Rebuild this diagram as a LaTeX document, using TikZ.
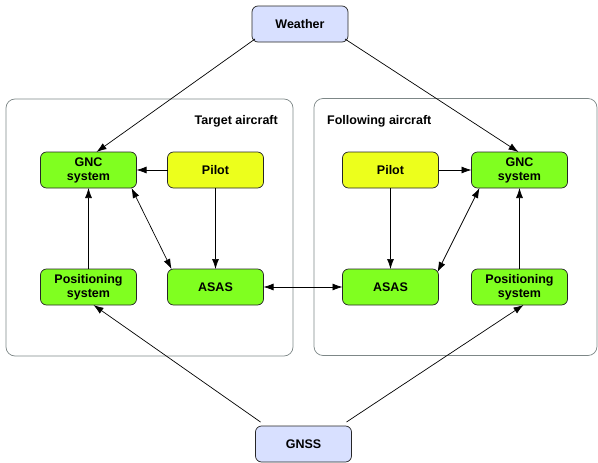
\documentclass[tikz,border=0pt]{standalone}
\usepackage{fontspec}
\setmainfont{Liberation Sans}
\usetikzlibrary{positioning, arrows.meta}
\definecolor{unitgreen}{RGB}{128,255,32}
\definecolor{pilotyellow}{RGB}{236,255,28}
\definecolor{envblue}{RGB}{216,224,255}
\definecolor{groupgray}{RGB}{125,135,135}
\tikzset{
	unit/.style={
		draw=black!85,
		line width=0.7pt,
		fill=unitgreen,
		rounded corners=6pt,
		align=center,
		minimum width=96pt,
		minimum height=36pt,
		inner sep=1pt,
		outer sep=0pt,
		font={\fontsize{12.5}{14}\selectfont\bfseries}
	},
	pilot/.style={
		unit,
		fill=pilotyellow
	},
	env/.style={
		unit,
		fill=envblue
	},
	group/.style={
		draw=groupgray,
		line width=0.7pt,
		rounded corners=9pt,
		minimum height=257pt,
		outer sep=0pt
	},
	grouptitle/.style={
		inner sep=0pt,
		font={\fontsize{12.5}{14}\selectfont\bfseries}
	},
	flow/.style={line width=0.7pt, -{Latex[length=10pt,width=7pt]}},
	twoway/.style={line width=0.7pt, {Latex[length=10pt,width=7pt]}-{Latex[length=10pt,width=7pt]}}
}

\begin{document}
\begin{tikzpicture}[x=1pt, y=-1pt]
\useasboundingbox (0,0) rectangle (598,463);

% the two aircraft
\node(tgroup)[group, minimum width=287pt] at (149.5,227.5){};
\node(fgroup)[group, minimum width=283pt] at (455.5,227){};
\node(ttitle)[grouptitle, anchor=east] at (278,121){Target aircraft};
\node(ftitle)[grouptitle, anchor=west] at (327,121){Following aircraft};

\node(tgnc)[unit] at (88.5,170){GNC\\system};
\node(tpilot)[pilot, right=31pt of tgnc]{Pilot};
\node(tpos)[unit, below=81pt of tgnc]{Positioning\\system};
\node(tasas)[unit, below=81pt of tpilot]{ASAS};

\node(fpilot)[pilot, right=79pt of tpilot]{Pilot};
\node(fgnc)[unit, right=33pt of fpilot]{GNC\\system};
\node(fasas)[unit, below=81pt of fpilot]{ASAS};
\node(fpos)[unit, below=81pt of fgnc]{Positioning\\system};

% shared environment
\node(weather)[env] at (300,24){Weather};
\node(gnss)[env] at (303.5,444){GNSS};

\draw[flow] ([shift={(3pt,3pt)}]weather.south west) -- ([xshift=8pt]tgnc.north);
\draw[flow] ([shift={(-3pt,3pt)}]weather.south east) -- ([xshift=-1pt]fgnc.north);

\draw[flow] (tpilot) -- (tgnc);
\draw[flow] (fpilot) -- (fgnc);
\draw[flow] (tpilot) -- (tasas);
\draw[flow] (fpilot) -- (fasas);
\draw[flow] (tpos) -- (tgnc);
\draw[flow] (fpos) -- (fgnc);

\draw[twoway] ([xshift=4pt]tasas.north west) -- ([xshift=-5pt]tgnc.south east);
\draw[twoway] ([shift={(-1pt,-3pt)}]fasas.north east) -- ([xshift=8pt]fgnc.south west);
\draw[twoway] (tasas) -- (fasas);

\draw[flow] ([shift={(5pt,4pt)}]gnss.north west) -- ([xshift=5pt]tpos.south);
\draw[flow] ([shift={(-5pt,4pt)}]gnss.north east) -- ([xshift=4pt]fpos.south);

\end{tikzpicture}
\end{document}
